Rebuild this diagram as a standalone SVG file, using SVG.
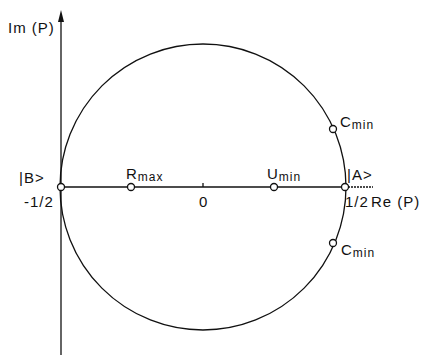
<svg xmlns="http://www.w3.org/2000/svg" width="424" height="355" viewBox="0 0 424 355">
<style>
.ln{stroke:#111;stroke-width:1.3;fill:none}
.pt{fill:#fff;stroke:#111;stroke-width:1.3}
text{font-family:"Liberation Sans",Arial,sans-serif;font-size:15px;letter-spacing:1px;fill:#111}
.sub{font-size:12px}
</style>
<rect width="424" height="355" fill="#fff"/>
<g id="connectors">
<line class="ln" x1="61" y1="355" x2="61" y2="18"/>
<path d="M58,22 L61,10 L64,22 Z" fill="#111"/>
<line class="ln" x1="61" y1="187" x2="345" y2="187"/>
<line class="ln" x1="345" y1="187" x2="373" y2="187" stroke-dasharray="2 1" stroke-width="1"/>
<line class="ln" x1="203" y1="183" x2="203" y2="187"/>
<circle class="ln" cx="203" cy="187" r="143"/>
</g>
<g id="labels">
<text x="371" y="207" letter-spacing="0.5">Re (P)</text>
<text x="199" y="207">0</text>
</g>
<g id="axisIm">
<text x="8" y="33">Im (P)</text>
</g>
<g id="B">
<circle class="pt" cx="61" cy="187" r="3.5"/>
<text x="19" y="183">|B&gt;</text>
<text x="24" y="207">-1/2</text>
</g>
<g id="Rmax">
<circle class="pt" cx="131" cy="187" r="3.5"/>
<text x="126" y="179">R<tspan class="sub" dy="2">max</tspan></text>
</g>
<g id="Umin">
<circle class="pt" cx="274" cy="187" r="3.5"/>
<text x="267" y="179">U<tspan class="sub" dy="2">min</tspan></text>
</g>
<g id="A">
<circle class="pt" cx="345" cy="187" r="3.5"/>
<text x="347" y="180">|A&gt;</text>
<text x="345" y="207" letter-spacing="0">1/2</text>
</g>
<g id="Cmin1">
<circle class="pt" cx="333" cy="129" r="3.5"/>
<text x="340" y="127">C<tspan class="sub" dy="2">min</tspan></text>
</g>
<g id="Cmin2">
<circle class="pt" cx="333" cy="243" r="3.5"/>
<text x="341" y="255">C<tspan class="sub" dy="2">min</tspan></text>
</g>
</svg>
